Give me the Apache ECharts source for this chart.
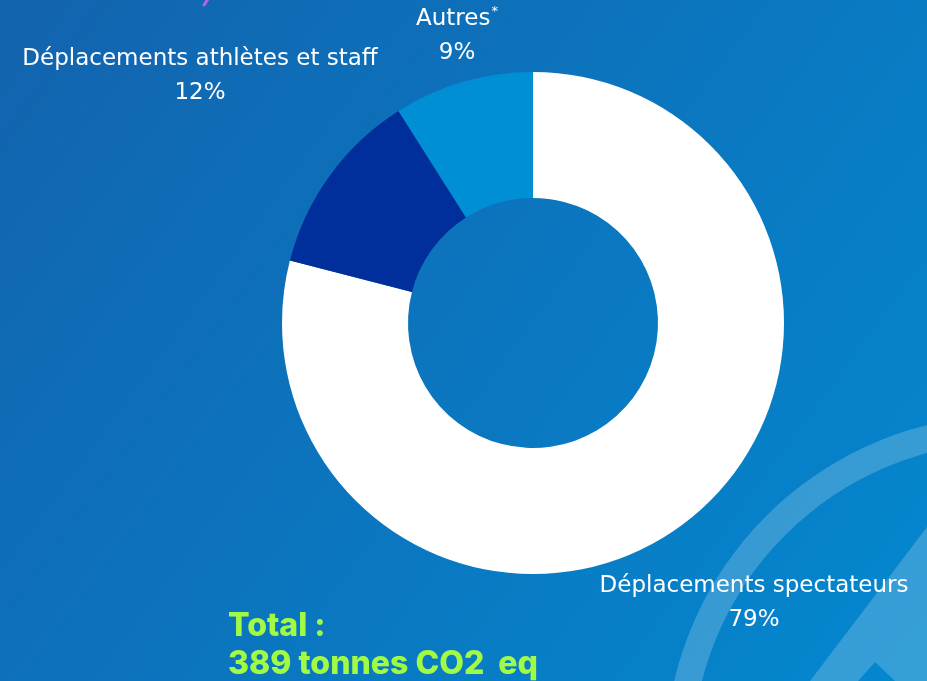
<!DOCTYPE html>
<html>
<head>
<meta charset="utf-8">
<script src="https://cdn.jsdelivr.net/npm/echarts@6/dist/echarts.min.js"></script>
<style>
html,body{margin:0;padding:0;width:927px;height:681px;overflow:hidden;}
#c{width:927px;height:681px;}
</style>
</head>
<body>
<div id="c"></div>
<script>
// ---- data ----
const categories = ['Déplacements spectateurs', 'Déplacements athlètes et staff', 'Autres*'];
const shares = [79, 12, 9];
const totalLines = ['Total :', '389 tonnes CO2  eq'];

// ---- style ----
const sliceColors = ['#ffffff', '#002e9b', '#008fd4'];
const labelSpots = [[754, 603], [200, 76], [457, 36]];
const labelFont = '"DejaVu Sans", "Open Sans", sans-serif';

const chart = echarts.init(document.getElementById('c'), null, {renderer: 'canvas'});

const pieData = categories.map((n, i) => ({
  name: n, value: shares[i], itemStyle: {color: sliceColors[i]}
}));

chart.setOption({
  animation: false,
  backgroundColor: {
    type: 'linear', x: 0, y: 0, x2: 1, y2: 1,
    colorStops: [{offset: 0, color: '#1363ae'}, {offset: 1, color: '#0388cf'}]
  },
  graphic: [
    {type: 'ring', silent: true, z: 0,
     shape: {cx: 1010, cy: 760, r: 345, r0: 318},
     style: {fill: 'rgba(255,255,255,0.2)'}},
    {type: 'polygon', silent: true, z: 0,
     shape: {points: [[810, 681], [927, 527], [927, 681], [895, 681], [875, 662], [858, 681]]},
     style: {fill: 'rgba(255,255,255,0.2)'}},
    {type: 'line', silent: true, z: 5,
     shape: {x1: 208, y1: -1, x2: 204, y2: 5},
     style: {stroke: '#b562e8', lineWidth: 3, lineCap: 'round'}},
    {type: 'text', silent: true, z: 5, left: 228, top: 610,
     style: {text: totalLines[0], fill: '#a1fb45', font: '800 32px Inter, "Noto Sans", sans-serif'}},
    {type: 'text', silent: true, z: 5, left: 228, top: 648,
     style: {text: totalLines[1], fill: '#a1fb45', font: '800 32px Inter, "Noto Sans", sans-serif'}}
  ],
  series: [{
    type: 'pie',
    center: [533, 323],
    radius: [125, 251],
    startAngle: 90,
    clockwise: true,
    silent: true,
    emphasis: {disabled: true},
    labelLine: {show: false},
    label: {
      show: true,
      position: 'outside',
      overflow: 'none',
      color: '#ffffff',
      fontFamily: labelFont,
      fontSize: 23,
      lineHeight: 34,
      align: 'center',
      formatter: function (p) {
        const nm = p.name.replace('*', '{sup|*}');
        return nm + '\n' + p.value + '%';
      },
      rich: {
        sup: {fontSize: 13, color: '#ffffff', fontFamily: labelFont, lineHeight: 20, padding: [0, 0, 14, 1]}
      }
    },
    labelLayout: function (params) {
      const s = labelSpots[params.dataIndex];
      return {x: s[0], y: s[1], align: 'center', verticalAlign: 'middle'};
    },
    data: pieData
  }]
});
</script>
</body>
</html>
